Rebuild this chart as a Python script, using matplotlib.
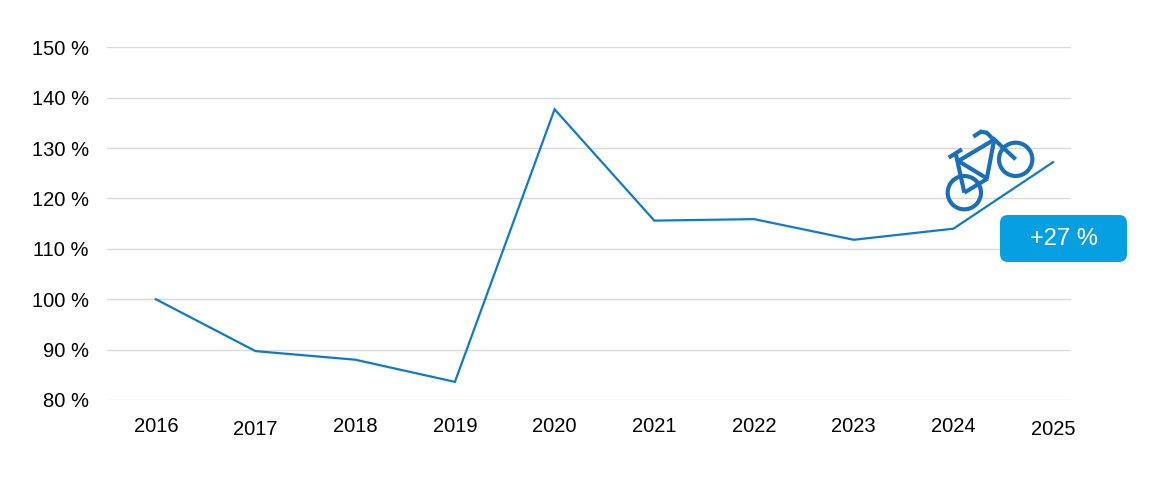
import matplotlib
matplotlib.use("Agg")
import matplotlib.pyplot as plt
from matplotlib.transforms import Affine2D
from matplotlib.patches import Circle, FancyBboxPatch
from matplotlib.lines import Line2D

years = ["2016", "2017", "2018", "2019", "2020", "2021", "2022", "2023", "2024", "2025"]
values = [100.0, 89.7, 88.0, 83.6, 137.7, 115.6, 115.9, 111.8, 114.0, 127.2]
y_ticks = [80, 90, 100, 110, 120, 130, 140, 150]
y_tick_labels = ["80 %", "90 %", "100 %", "110 %", "120 %", "130 %", "140 %", "150 %"]
badge_text = "+27 %"

plt.rcParams['font.family'] = ['Liberation Sans', 'DejaVu Sans']

W, H = 1152, 487
fig = plt.figure(figsize=(W / 100, H / 100), dpi=100)
ax = fig.add_axes([107 / W, 1 - 400 / H, (1071 - 107) / W, (400 - 47.3) / H])

x = list(range(len(years)))
ax.plot(x, values, color='#0f7bc6', lw=1.6, solid_joinstyle='miter', zorder=3)

ax.set_ylim(80, 150)
ax.set_xlim(-0.49, 9.18)
ax.set_yticks(y_ticks)
ax.set_yticklabels(y_tick_labels)
ax.set_xticks(x)
ax.set_xticklabels(years)
ax.grid(axis='y', color='#d9d9d9', lw=1.0)
ax.set_axisbelow(True)
for s in ax.spines.values():
    s.set_visible(False)
ax.tick_params(axis='both', length=0, labelsize=14.5, colors='#000000')
ax.tick_params(axis='y', pad=13)
ax.tick_params(axis='x', pad=12.5)
for lab in ax.get_xticklabels():
    if lab.get_text() in ("2017", "2025"):
        lab.set_y(-0.008)

# pixel transform (origin top-left, y down)
pt = Affine2D().scale(1 / 100, -1 / 100).translate(0, H / 100) + fig.dpi_scale_trans

# badge
badge = FancyBboxPatch((1000, 215), 127, 47, boxstyle="round,pad=0,rounding_size=8",
                       facecolor='#069fe2', edgecolor='none', transform=pt, zorder=5)
fig.patches.append(badge)
fig.text(1064 / W, 1 - 239 / H, badge_text, color='white', fontsize=17,
         ha='center', va='center', zorder=10)

# bicycle icon (decoration), coordinates in zoomed icon space
bike_col = '#1b6fb7'
ox, oy, sc = 940, 126, 1 / 3.0
def P(zx, zy):
    return (ox + zx * sc, oy + zy * sc)

for (cx, cy, r) in [(73, 200, 50), (227, 100, 50)]:
    c = P(cx, cy)
    fig.patches.append(Circle(c, r * sc, fill=False, edgecolor=bike_col, lw=3.0,
                              transform=pt, zorder=6))

segments = [
    [(26, 95), (66, 70)],              # saddle
    [(48, 86), (73, 200)],             # seat tube
    [(73, 200), (142, 158)],           # chain stay
    [(55, 105), (142, 158)],           # seat to bottom bracket
    [(50, 108), (164, 40)],            # top tube
    [(140, 160), (162, 44)],           # down tube
    [(158, 36), (227, 100)],           # fork
    [(100, 32), (123, 17), (140, 20), (162, 42)],  # handlebar
]
for seg in segments:
    pts = [P(a, b) for a, b in seg]
    xs = [p[0] for p in pts]
    ys = [p[1] for p in pts]
    fig.lines.append(Line2D(xs, ys, color=bike_col, lw=3.0, transform=pt,
                            solid_capstyle='butt', solid_joinstyle='miter', zorder=6))

fig.savefig("out.png", dpi=100)
